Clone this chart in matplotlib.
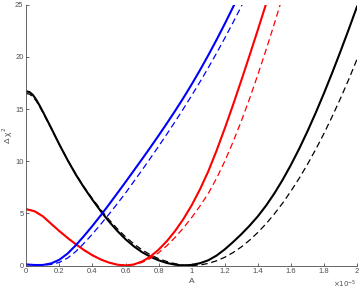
import matplotlib
matplotlib.use("Agg")
import matplotlib.pyplot as plt
from matplotlib.ticker import FixedLocator, FixedFormatter

# x in units of 1e-5
black_x = [0, 0.02, 0.04, 0.06, 0.08, 0.1, 0.15, 0.2, 0.25, 0.3, 0.35, 0.4, 0.45, 0.5, 0.55, 0.6, 0.65,
           0.7, 0.75, 0.8, 0.85, 0.9, 0.95, 1.0, 1.05, 1.1, 1.15, 1.2, 1.25, 1.3, 1.35, 1.4, 1.45, 1.5,
           1.55, 1.6, 1.65, 1.7, 1.75, 1.8, 1.85, 1.9, 1.95, 2.0]
black_solid = [16.7, 16.62, 16.35, 15.9, 15.35, 14.75, 13.2, 11.6, 10.1, 8.7, 7.45, 6.3, 5.22, 4.22, 3.32,
               2.52, 1.84, 1.28, 0.84, 0.5, 0.24, 0.08, 0.0, 0.06, 0.22, 0.5, 0.95, 1.55, 2.25, 3.0, 3.82,
               4.72, 5.75, 6.92, 8.22, 9.65, 11.2, 12.87, 14.65, 16.53, 18.5, 20.55, 22.67, 24.85]
black_dashed = [16.5, 16.42, 16.18, 15.78, 15.25, 14.68, 13.15, 11.6, 10.12, 8.75, 7.52, 6.4, 5.36, 4.4,
                3.53, 2.75, 2.07, 1.5, 1.03, 0.66, 0.38, 0.17, 0.05, 0.0, 0.05, 0.2, 0.45, 0.79, 1.24,
                1.78, 2.43, 3.17, 4.01, 4.95, 5.99, 7.13, 8.37, 9.7, 11.14, 12.67, 14.31, 16.04, 17.87, 19.8]

red_x = [0, 0.05, 0.1, 0.15, 0.2, 0.25, 0.3, 0.35, 0.4, 0.45, 0.5, 0.55, 0.6, 0.65, 0.7, 0.75, 0.8, 0.85,
         0.9, 0.95, 1.0, 1.05, 1.1, 1.15, 1.2, 1.25, 1.3, 1.35, 1.4, 1.45, 1.5, 1.55]
red_solid = [5.4, 5.2, 4.72, 4.0, 3.3, 2.64, 2.03, 1.47, 0.98, 0.58, 0.28, 0.08, 0.0, 0.1, 0.38, 0.86, 1.52,
             2.34, 3.32, 4.46, 5.78, 7.3, 9.02, 11.0, 13.15, 15.4, 17.75, 20.15, 22.6, 25.1, 27.6, 30.1]
red_dashed = [5.4, 5.2, 4.72, 4.0, 3.3, 2.64, 2.03, 1.47, 0.98, 0.58, 0.28, 0.1, 0.02, 0.08, 0.3, 0.68, 1.22,
              1.9, 2.7, 3.6, 4.6, 5.7, 6.9, 8.35, 10.0, 11.85, 13.85, 16.0, 18.3, 20.7, 23.2, 25.8]

blue_x = [0, 0.05, 0.1, 0.15, 0.2, 0.25, 0.3, 0.35, 0.4, 0.45, 0.5, 0.55, 0.6, 0.65, 0.7, 0.75, 0.8, 0.85,
          0.9, 0.95, 1.0, 1.05, 1.1, 1.15, 1.2, 1.25, 1.3, 1.35]
blue_solid = [0.1, 0.05, 0.05, 0.2, 0.55, 1.15, 1.95, 2.85, 3.8, 4.8, 5.85, 6.92, 8.0, 9.1, 10.2, 11.32,
              12.46, 13.63, 14.83, 16.07, 17.37, 18.73, 20.15, 21.63, 23.17, 24.77, 26.43, 28.1]
blue_dashed = [0.1, 0.05, 0.03, 0.1, 0.3, 0.72, 1.35, 2.15, 3.02, 3.95, 4.92, 5.92, 6.95, 8.05, 9.15,
               10.28, 11.43, 12.6, 13.8, 15.03, 16.3, 17.6, 18.95, 20.35, 21.8, 23.3, 24.85, 26.45]

xticks = [0, 0.2, 0.4, 0.6, 0.8, 1.0, 1.2, 1.4, 1.6, 1.8, 2.0]
xticklabels = ["0", "0.2", "0.4", "0.6", "0.8", "1", "1.2", "1.4", "1.6", "1.8", "2"]
yticks = [0, 5, 10, 15, 20, 25]

plt.rcParams['font.family'] = ['Liberation Sans', 'DejaVu Sans']
gray = '#4d4d4d'

fig = plt.figure(figsize=(3.6, 2.91), dpi=100)
ax = fig.add_axes([0.073, 0.0876, 0.919, 0.8962])

lw_s, lw_d = 1.5, 0.9
dash = (0, (5, 3))
kw = dict(solid_joinstyle='round', solid_capstyle='round')
ax.plot(black_x, black_solid, color='black', lw=lw_s, **kw)
ax.plot(black_x, black_dashed, color='black', lw=lw_d, ls=dash)
ax.plot(red_x, red_solid, color='#ff0000', lw=lw_s, **kw)
ax.plot(red_x, red_dashed, color='#ff0000', lw=lw_d, ls=dash)
ax.plot(blue_x, blue_solid, color='#0000ff', lw=lw_s, **kw)
ax.plot(blue_x, blue_dashed, color='#0000ff', lw=lw_d, ls=dash)

ax.set_xlim(0, 2)
ax.set_ylim(0, 25)
ax.spines['top'].set_visible(False)
ax.spines['right'].set_visible(False)
for s in ('left', 'bottom'):
    ax.spines[s].set_color(gray)
    ax.spines[s].set_linewidth(0.6)
ax.xaxis.set_major_locator(FixedLocator(xticks))
ax.xaxis.set_major_formatter(FixedFormatter(xticklabels))
ax.set_yticks(yticks)
ax.tick_params(direction='in', length=2.5, width=0.6, color=gray, labelcolor=gray, labelsize=5.5, pad=2)
ax.set_xlabel('A', fontsize=6, color=gray, labelpad=2)
ax.set_ylabel('Δ χ$^2$', fontsize=6, color=gray, labelpad=0)
ax.text(1.0, -0.083, r'$\times10^{-5}$', transform=ax.transAxes, ha='right', va='baseline',
        fontsize=5, color=gray)

fig.savefig('out.png', dpi=100)
